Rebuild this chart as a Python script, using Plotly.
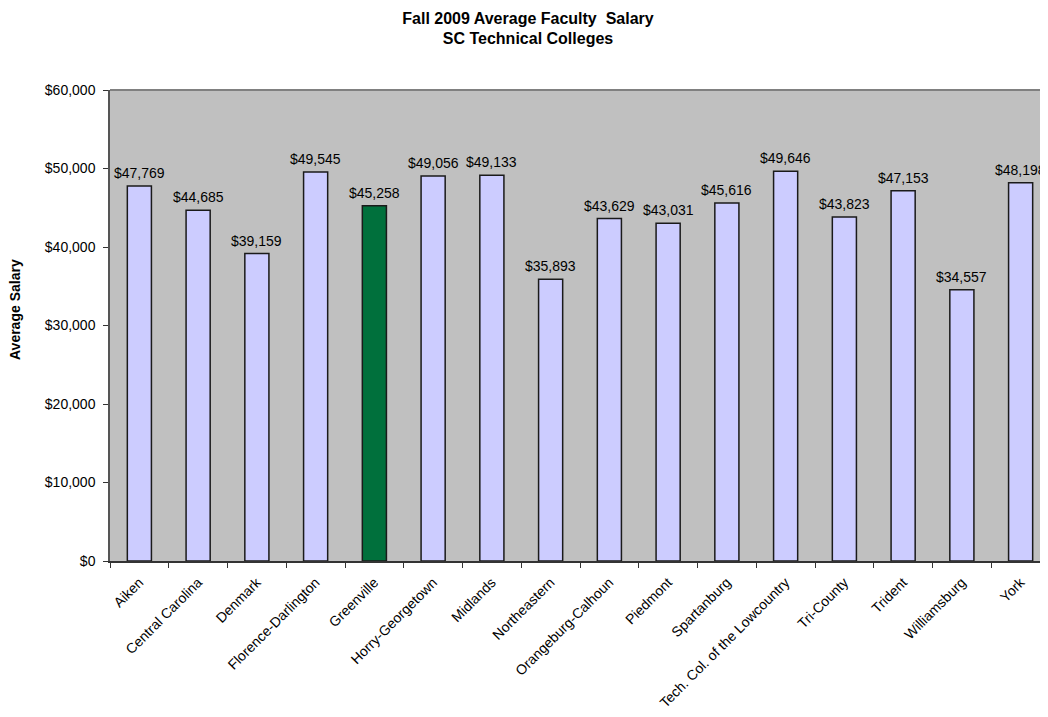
import plotly.graph_objects as go

colleges = ["Aiken", "Central Carolina", "Denmark", "Florence-Darlington", "Greenville",
            "Horry-Georgetown", "Midlands", "Northeastern", "Orangeburg-Calhoun", "Piedmont",
            "Spartanburg", "Tech. Col. of the Lowcountry", "Tri-County", "Trident",
            "Williamsburg", "York"]
salaries = [47769, 44685, 39159, 49545, 45258, 49056, 49133, 35893, 43629, 43031,
            45616, 49646, 43823, 47153, 34557, 48198]
highlight = "Greenville"

bar_colors = ["#00703C" if c == highlight else "#CCCCFF" for c in colleges]

FONT = "Liberation Sans, Arial, sans-serif"

# The page body has an 8px margin; the figure is sized so it fills the window.
fig = go.Figure(go.Bar(
    x=colleges, y=salaries,
    marker=dict(color=bar_colors, line=dict(color="#1a1a1a", width=1.5)),
    width=0.41,
    cliponaxis=False,
))

for c, v in zip(colleges, salaries):
    fig.add_annotation(x=c, y=v, text=f"${v:,}", showarrow=False, yanchor="bottom",
                       xanchor="center", yshift=3,
                       font=dict(family=FONT, size=14, color="#000000"))

fig.update_layout(
    width=1040, height=709,
    margin=dict(l=102, r=0, t=82, b=156),
    paper_bgcolor="white", plot_bgcolor="#C0C0C0",
    font=dict(family=FONT, color="#000000"),
    title=dict(text="<b>Fall 2009 Average Faculty  Salary<br>SC Technical Colleges</b>",
               x=0.5, xanchor="center", y=0.978, yanchor="top",
               font=dict(family=FONT, size=16)),
    showlegend=False,
    bargap=0.59,
)
fig.update_xaxes(
    range=[-0.5, 15.466], tickangle=-45, tickson="boundaries", automargin=False,
    ticks="outside", ticklen=5, tickcolor="#333333", ticklabelstandoff=6,
    showline=True, linecolor="#333333", linewidth=1.5, mirror=False,
    tickfont=dict(family=FONT, size=14), showgrid=False,
)
fig.update_yaxes(
    range=[0, 60000], dtick=10000, tickformat="$,.0f", automargin=False,
    ticks="outside", ticklen=5, tickcolor="#333333", ticklabelstandoff=5,
    showline=True, linecolor="#555555", linewidth=1.5, showgrid=False, zeroline=False,
    tickfont=dict(family=FONT, size=14),
)
fig.add_annotation(text="<b>Average Salary</b>", textangle=-90, xref="paper", yref="paper",
                   x=-0.1013, y=0.535, xanchor="center", yanchor="middle", showarrow=False,
                   font=dict(family=FONT, size=14))
fig.add_shape(type="line", xref="paper", yref="paper", x0=0, x1=1, y0=1, y1=1,
              line=dict(color="#808080", width=2))

fig.write_html("out.html")
